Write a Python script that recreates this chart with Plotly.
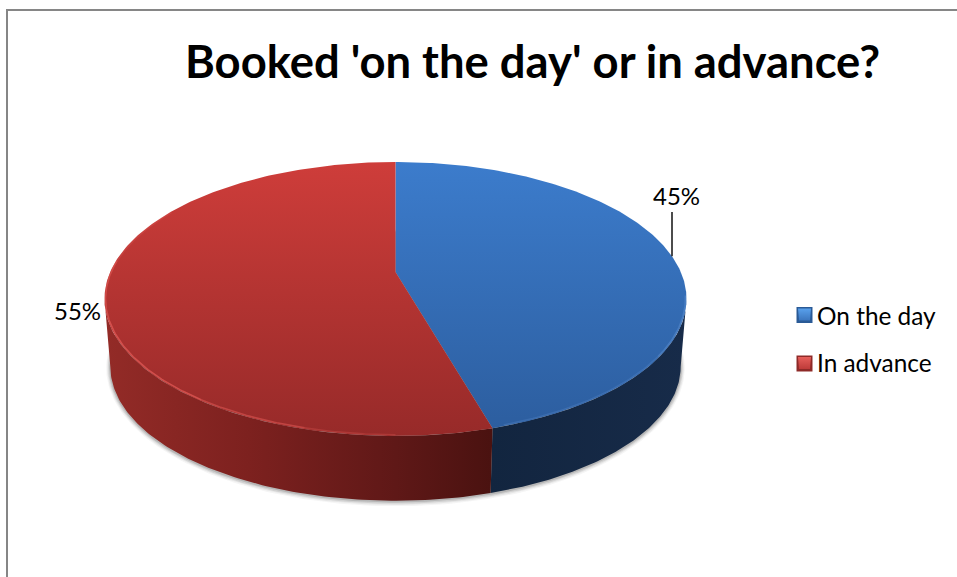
import numpy as np
import plotly.graph_objects as go

# Chart content
title_text = "Booked 'on the day' or in advance?"
categories = ["On the day", "In advance"]
shares = [45, 55]

# Slice colours: top face (back, front) and wall stops (left to right)
top_colors = [("#3C7CCC", "#2C5D9E"), ("#CE3D3A", "#972A29")]
wall_colors = [
    [[0, "#12253F"], [1, "#172B49"]],
    [[0, "#932B27"], [0.37, "#7D211F"], [0.75, "#5F1817"], [1, "#4A1210"]],
]
key_colors = [("#2A5A96", "#5AA2EE", "#3A74BC"), ("#8E2A28", "#E8605C", "#BC3A38")]

# Pie geometry in page pixels: a disc seen in perspective
W, H = 957, 577
CX = 395.5
APEX_Y = 272.0
BACK_DY, FRONT_DY = 110.0, 164.0
PERSP = (FRONT_DY - BACK_DY) / (FRONT_DY + BACK_DY)
DEPTH_Y = BACK_DY * (1 + PERSP)
WIDTH_X = 285.3
FLOOR_SCALE = 0.98
FLOOR_APEX_Y = 340.0
TILT_WARP = np.radians(3.4)
EDGE_T = np.pi - np.arccos(PERSP)


def warp(t):
    return t - TILT_WARP * np.sin(2 * t)


def rim(t, scale=1.0, apex=APEX_Y, grow=0.0):
    t = np.asarray(t, dtype=float)
    u, v = np.sin(t), -np.cos(t)
    w = 1 - PERSP * v
    return (CX + (scale * WIDTH_X + grow) * u / w,
            apex + (scale * DEPTH_Y + grow) * v / w)


cuts = warp(np.cumsum([0] + shares) / sum(shares) * 2 * np.pi)
fig = go.Figure()


def poly(x, y, **kw):
    fig.add_trace(go.Scatter(x=np.round(x, 2), y=np.round(y, 2), mode="lines", fill="toself",
                             line=dict(width=0), hoverinfo="skip", showlegend=False, **kw))


# Soft shadow under the base
full = np.linspace(0, 2 * np.pi, 361)
for grow, alpha in [(4, 0.05), (3, 0.08), (2, 0.12), (1, 0.18)]:
    sx, sy = rim(full, FLOOR_SCALE, FLOOR_APEX_Y + 0.5, grow)
    poly(sx, sy, fillcolor=f"rgba(60,60,60,{alpha})")

# Walls: only the part of the rim facing the viewer is visible
for i, stops in enumerate(wall_colors):
    a = max(cuts[i], EDGE_T)
    b = min(cuts[i + 1], 2 * np.pi - EDGE_T)
    t = np.linspace(a, b, 120)
    tx, ty = rim(t)
    bx, by = rim(t, FLOOR_SCALE, FLOOR_APEX_Y)
    x = np.concatenate([tx, bx[::-1]])
    y = np.concatenate([ty, by[::-1]])
    poly(x, y, fillgradient=dict(type="horizontal", colorscale=stops,
                                 start=float(x.min()), stop=float(x.max())))

# Top faces
for i, (back, front) in enumerate(top_colors):
    t = np.linspace(cuts[i], cuts[i + 1], 240)
    rx, ry = rim(t)
    x = np.concatenate([[CX], rx, [CX]])
    y = np.concatenate([[APEX_Y], ry, [APEX_Y]])
    poly(x, y, fillgradient=dict(type="vertical", colorscale=[[0, front], [1, back]],
                                 start=float(rim(np.pi)[1]), stop=float(rim(0.0)[1])))

# Bevel highlight along the front edge of the top face
bevels = [
    (195, 215, "rgba(226,90,85,0.55)"), (215, 250, "rgba(226,90,85,0.75)"),
    (180, 195, "rgba(226,90,85,0.30)"), (250, 275, "rgba(226,90,85,0.60)"),
    (275, 300, "rgba(226,90,85,0.30)"), (100, 125, "rgba(90,140,205,0.55)"),
    (125, 162, "rgba(90,140,205,0.30)"),
]
for start, end, col in bevels:
    bx, by = rim(np.radians(np.linspace(start, end, 50)), grow=-1.0)
    fig.add_trace(go.Scatter(x=np.round(bx, 2), y=np.round(by, 2), mode="lines",
                             line=dict(color=col, width=1.6), hoverinfo="skip", showlegend=False))

# Legend keys with a bevelled look, drawn as square tiles
KEY_X, KEY_SIZE = 796.5, 16.0
KEY_YS = [307.0, 355.5]
for (edge, light, mid), ky in zip(key_colors, KEY_YS):
    sq = KEY_SIZE
    poly([KEY_X, KEY_X + sq, KEY_X + sq, KEY_X, KEY_X], [ky, ky, ky + sq, ky + sq, ky], fillcolor=edge)
    poly([KEY_X + 1.5, KEY_X + sq - 1.5, KEY_X + sq - 2.5, KEY_X + 2.5],
         [ky + 1.5, ky + 1.5, ky + sq - 2.5, ky + sq - 2.5],
         fillgradient=dict(type="vertical", colorscale=[[0, light], [1, mid]], start=ky + 1, stop=ky + sq - 2))

# Leader line for the upper data label: runs down to the rim
LEADER_X, LEADER_TOP = 672.0, 212.0
arc = np.radians(np.linspace(30, 100, 300))
arc_x, arc_y = rim(arc)
leader_end = float(np.interp(LEADER_X, arc_x, arc_y))
fig.add_trace(go.Scatter(x=[LEADER_X, LEADER_X], y=[LEADER_TOP, leader_end], mode="lines",
                         line=dict(color="#111111", width=1.5), hoverinfo="skip", showlegend=False))

FONT = "Lato, Carlito, Calibri, sans-serif"
notes = [
    (532.5, 60, title_text, 45.4, "center", "<b>%s</b>"),
    (676, 195, f"{shares[0]}%", 24, "center", "%s"),
    (77, 310, f"{shares[1]}%", 24, "center", "%s"),
    (815, 315, categories[0], 24.4, "left", "%s"),
    (815, 362.5, categories[1], 24.4, "left", "%s"),
]
for x, y, text, size, anchor, fmt in notes:
    fig.add_annotation(x=x, y=y, text=fmt % text, showarrow=False, xanchor=anchor, yanchor="middle",
                       font=dict(family=FONT, size=size, color="#000000"))

fig.update_layout(
    width=W, height=H, margin=dict(l=0, r=0, t=0, b=0),
    paper_bgcolor="white", plot_bgcolor="white", showlegend=False,
    xaxis=dict(range=[0, W], visible=False, fixedrange=True),
    yaxis=dict(range=[H, 0], visible=False, fixedrange=True),
    # Chart frame; its right and bottom sides run past the page
    shapes=[dict(type="rect", x0=7, y0=10, x1=W + 20, y1=H + 20, line=dict(color="#868686", width=2),
                 fillcolor="rgba(0,0,0,0)", layer="below")],
)
fig.write_html("out.html", config={"displayModeBar": False})
